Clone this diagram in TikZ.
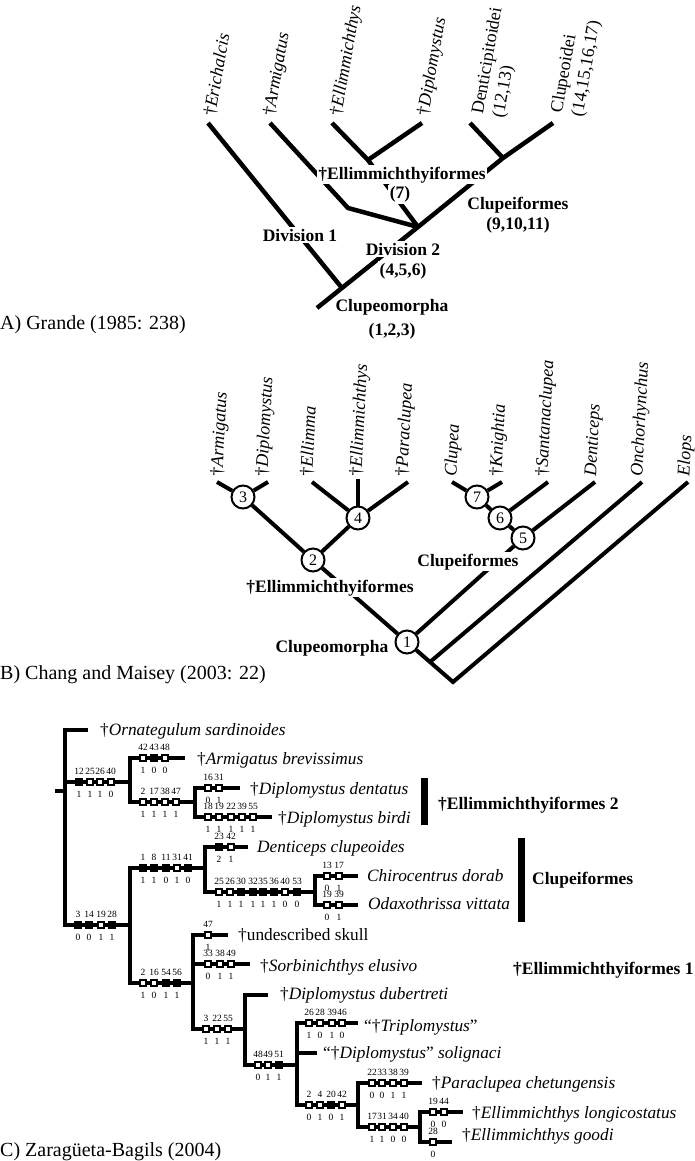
\documentclass[tikz,border=0pt]{standalone}
\usepackage{fontspec}
\setmainfont{Liberation Serif}
% one row of character boxes on a branch: name, y, list of x/fill/character/state
\newcommand{\chrow}[3]{%
  \foreach \px/\pf/\pc/\ps in {#3}{%
    \node[chbox, fill=\pf] (#1-\pc) at (\px,#2)
      [label={[ctop]above:\pc}, label={[cbot]below:\ps}] {};}}
\begin{document}
\begin{tikzpicture}[x=1pt, y=-1pt,
  brA/.style={line width=4.5pt, line join=miter},
  brB/.style={line width=4pt},
  brC/.style={line width=4.5pt, line join=miter},
  taxonA/.style={rotate=80, anchor=west, inner sep=0pt, align=left, font=\fontsize{18}{21}\selectfont},
  taxonB/.style={rotate=87, anchor=west, inner sep=0pt, font=\fontsize{18}{21}\selectfont\itshape},
  grp/.style={anchor=base, fill=white, inner sep=1.5pt, font=\fontsize{17.5}{20}\selectfont\bfseries},
  grpC/.style={anchor=base west, inner sep=0pt, font=\fontsize{17.5}{20}\selectfont\bfseries},
  title/.style={anchor=base west, inner sep=0pt, font=\fontsize{20}{24}\selectfont},
  circ/.style={circle, draw, line width=2pt, fill=white, minimum size=23pt, inner sep=0pt, font=\fontsize{16}{16}\selectfont},
  taxC/.style={anchor=base west, inner sep=0pt, font=\fontsize{17.3}{20}\selectfont},
  chbox/.style={draw, line width=1.3pt, minimum width=6.2pt, minimum height=6.2pt, inner sep=0pt},
  ctop/.style={inner sep=0pt, label distance=3.3pt, font=\fontsize{9.5}{9.5}\selectfont},
  cbot/.style={inner sep=0pt, label distance=4.8pt, font=\fontsize{9.5}{9.5}\selectfont}
]
\fill[white] (0,0) rectangle (695,1161);
\useasboundingbox (0,0) rectangle (695,1161);

% ---------------- A) Grande ----------------
\coordinate (a0) at (317,308);
\coordinate (aD1) at (342,288);
\coordinate (aD2) at (418,227);
\coordinate (aCl) at (503,158);
\coordinate (aErich) at (208,123);
\coordinate (aArmK) at (348,208);
\coordinate (aArm) at (270,123);
\coordinate (aEllJ) at (368,160);
\coordinate (aEll) at (332,123);
\coordinate (aDip) at (422,123);
\coordinate (aDen) at (470,123);
\coordinate (aClu) at (553,123);

\draw[brA] (a0) -- (aD2) -- (aCl) -- (aClu);
\draw[brA] (aD1) -- (aErich);
\draw[brA] (aD2) -- (aArmK) -- (aArm);
\draw[brA] (aD2) -- (aEllJ);
\draw[brA] (aEll) -- (aEllJ) -- (aDip);
\draw[brA] (aCl) -- (aDen);

\node[taxonA] (nErich) at (210,116) {†\textit{Erichalcis}};
\node[taxonA] (nArmA) at (270,116) {†\textit{Armigatus}};
\node[taxonA] (nEllA) at (337,116) {†\textit{Ellimmichthys}};
\node[taxonA] (nDipA) at (424,116) {†\textit{Diplomystus}};
\node[taxonA] (nDenA) at (489,116) {Denticipitoidei\\(12,13)};
\node[taxonA] (nCluA) at (568,115) {Clupeoidei\\(14,15,16,17)};

\node[grp] (laEll) at (402,179) {†Ellimmichthyiformes};
\node[grp] (laEll7) at (400,199) {(7)};
\node[grp] (laClf) at (518,209) {Clupeiformes};
\node[grp] (laClf2) at (518,229) {(9,10,11)};
\node[grp] (laD1) at (300,241) {Division 1};
\node[grp] (laD2) at (403,255) {Division 2};
\node[grp] (laD2b) at (403,275) {(4,5,6)};
\node[grp] (laClm) at (392,311) {Clupeomorpha};
\node[grp] (laClm2) at (392,335) {(1,2,3)};

\node[title] (tA) at (0,329) {A) Grande (1985: 238)};

% ---------------- B) Chang and Maisey ----------------
\node[circ] (c1) at (407,642) {1};
\node[circ] (c2) at (313,560) {2};
\node[circ] (c3) at (243,497) {3};
\node[circ] (c4) at (358,518) {4};
\node[circ] (c5) at (523,538) {5};
\node[circ] (c6) at (500,518) {6};
\node[circ] (c7) at (477,497) {7};

\coordinate (bArm) at (217,482);
\coordinate (bDip) at (268,482);
\coordinate (bElma) at (312,482);
\coordinate (bEllt) at (358,479);
\coordinate (bPara) at (408,482);
\coordinate (bClu) at (452,482);
\coordinate (bKni) at (502,482);
\coordinate (bSan) at (548,482);
\coordinate (bDen) at (595,482);
\coordinate (bOnc) at (642,482);
\coordinate (bElo) at (688,482);
\coordinate (bOncJ) at (430,662);
\coordinate (bRoot) at (453,682);

\draw[brB] (bArm) -- (c3);
\draw[brB] (bDip) -- (c3);
\draw[brB] (c3) -- (c2);
\draw[brB] (bElma) -- (c4);
\draw[brB] (bEllt) -- (c4);
\draw[brB] (bPara) -- (c4);
\draw[brB] (c4) -- (c2);
\draw[brB] (c2) -- (c1);
\draw[brB] (c1) -- (c5);
\draw[brB] (c5) -- (bDen);
\draw[brB] (c5) -- (c6);
\draw[brB] (c6) -- (bSan);
\draw[brB] (c6) -- (c7);
\draw[brB] (c7) -- (bClu);
\draw[brB] (c7) -- (bKni);
\draw[brB, line join=miter] (c1) -- (bOncJ) -- (bRoot) -- (bElo);
\draw[brB] (bOncJ) -- (bOnc);

\node[taxonB] (nArmB) at (218,476) {{\upshape†}Armigatus};
\node[taxonB] (nDipB) at (263,476) {{\upshape†}Diplomystus};
\node[taxonB] (nElmB) at (307,476) {{\upshape†}Ellimma};
\node[taxonB] (nEllB) at (357,476) {{\upshape†}Ellimmichthys};
\node[taxonB] (nParB) at (403,476) {{\upshape†}Paraclupea};
\node[taxonB] (nCluB) at (452,476) {Clupea};
\node[taxonB] (nKniB) at (497,476) {{\upshape†}Knightia};
\node[taxonB] (nSanB) at (543,476) {{\upshape†}Santanaclupea};
\node[taxonB] (nDenB) at (592,476) {Denticeps};
\node[taxonB] (nOncB) at (638,476) {Onchorhynchus};
\node[taxonB] (nEloB) at (685,476) {Elops};

\node[grp] (lbEll) at (330,592) {†Ellimmichthyiformes};
\node[grp] (lbClf) at (468,566) {Clupeiformes};
\node[grp] (lbClm) at (332,652) {Clupeomorpha};

\node[title] (tB) at (0,679) {B) Chang and Maisey (2003: 22)};

% ---------------- C) Zaragueta-Bagils ----------------
\coordinate (r0) at (55,791);
\coordinate (n0) at (65,791);
\coordinate (tOrn) at (88,730);
\coordinate (n1) at (130,782);
\coordinate (tArm) at (185,758);
\coordinate (n3) at (195,802);
\coordinate (tDent) at (240,788);
\coordinate (tBirdi) at (272,817);
\coordinate (n2) at (130,925);
\coordinate (n4) at (205,868);
\coordinate (tDenti) at (248,847);
\coordinate (n6) at (315,892);
\coordinate (tChir) at (358,876);
\coordinate (tOdax) at (358,905);
\coordinate (n5) at (193,983);
\coordinate (tUnd) at (228,935);
\coordinate (tSorb) at (250,964);
\coordinate (n7) at (245,1029);
\coordinate (tDub) at (268,995);
\coordinate (n8) at (297,1065);
\coordinate (tTri) at (358,1023);
\coordinate (tSol) at (317,1053);
\coordinate (n9) at (358,1105);
\coordinate (tPara) at (422,1083);
\coordinate (n10) at (420,1127);
\coordinate (tLong) at (463,1112);
\coordinate (tGoodi) at (452,1142);

\draw[brC] (r0) -- (n0);
\draw[brC] (n0) |- (tOrn);
\draw[brC] (n0) |- (n1);
\draw[brC] (n0) |- (n2);
\draw[brC] (n1) |- (tArm);
\draw[brC] (n1) |- (n3);
\draw[brC] (n3) |- (tDent);
\draw[brC] (n3) |- (tBirdi);
\draw[brC] (n2) |- (n4);
\draw[brC] (n2) |- (n5);
\draw[brC] (n4) |- (tDenti);
\draw[brC] (n4) |- (n6);
\draw[brC] (n6) |- (tChir);
\draw[brC] (n6) |- (tOdax);
\draw[brC] (n5) |- (tUnd);
\draw[brC] (n5) |- (tSorb);
\draw[brC] (n5) |- (n7);
\draw[brC] (n7) |- (tDub);
\draw[brC] (n7) |- (n8);
\draw[brC] (n8) |- (tTri);
\draw[brC] (n8) |- (tSol);
\draw[brC] (n8) |- (n9);
\draw[brC] (n9) |- (tPara);
\draw[brC] (n9) |- (n10);
\draw[brC] (n10) |- (tLong);
\draw[brC] (n10) |- (tGoodi);

% character changes (black = filled, white = open)
\chrow{k1}{782}{79/black/12/1, 90/white/25/1, 100/white/26/1, 111/white/40/0}
\chrow{k2}{758}{143/white/42/1, 154/black/43/0, 165/white/48/0}
\chrow{k3}{802}{143/white/2/1, 154/white/17/1, 165/white/38/1, 176/white/47/1}
\chrow{k4}{788}{208/white/16/0, 219/white/31/1}
\chrow{k5}{817}{208/white/18/1, 219/white/19/1, 231/white/22/1, 242/white/39/1, 253/white/55/1}
\chrow{k6}{925}{78/black/3/0, 89/black/14/0, 101/white/19/1, 112/black/28/1}
\chrow{k7}{868}{143/black/1/1, 154/black/8/1, 166/black/11/0, 177/white/31/1, 188/black/41/0}
\chrow{k8}{847}{219/black/23/2, 231/white/42/1}
\chrow{k9}{892}{219/white/25/1, 230/white/26/1, 241/black/30/1, 253/black/32/1, 263/black/35/1, 274/black/36/1, 285/white/40/0, 297/black/53/0}
\chrow{k10}{876}{327/white/13/0, 339/white/17/1}
\chrow{k11}{905}{327/white/19/0, 339/white/39/1}
\chrow{k12}{983}{143/white/2/1, 154/white/16/0, 166/black/54/1, 177/black/56/1}
\chrow{k13}{935}{208/white/47/1}
\chrow{k14}{964}{208/white/33/0, 220/white/38/1, 231/white/49/1}
\chrow{k15}{1029}{206/white/3/1, 217/white/22/1, 228/white/55/1}
\chrow{k16}{1065}{258/white/48/0, 268/white/49/1, 279/black/51/1}
\chrow{k17}{1023}{309/white/26/1, 320/white/28/0, 332/white/39/1, 342/white/46/0}
\chrow{k18}{1105}{309/white/2/0, 320/white/4/1, 331/black/20/0, 342/white/42/1}
\chrow{k19}{1083}{372/white/22/0, 382/white/33/0, 393/white/38/1, 404/white/39/1}
\chrow{k20}{1127}{372/white/17/1, 382/white/31/1, 393/white/34/0, 404/white/40/0}
\chrow{k21}{1112}{433/white/19/0, 444/white/44/0}
\chrow{k22}{1142}{433/white/28/0}

\node[taxC] (xOrn) at (100,735) {†\textit{Ornategulum sardinoides}};
\node[taxC] (xArm) at (197,764) {†\textit{Armigatus brevissimus}};
\node[taxC] (xDent) at (250,794) {†\textit{Diplomystus dentatus}};
\node[taxC] (xBirdi) at (278,823) {†\textit{Diplomystus birdi}};
\node[taxC] (xDenti) at (257,852) {\textit{Denticeps clupeoides}};
\node[taxC] (xChir) at (367,881) {\textit{Chirocentrus dorab}};
\node[taxC] (xOdax) at (368,909) {\textit{Odaxothrissa vittata}};
\node[taxC] (xUnd) at (238,940) {†undescribed skull};
\node[taxC] (xSorb) at (260,971) {†\textit{Sorbinichthys elusivo}};
\node[taxC] (xDub) at (280,999) {†\textit{Diplomystus dubertreti}};
\node[taxC] (xTri) at (364,1031) {“†\textit{Triplomystus}”};
\node[taxC] (xSol) at (323,1058) {“†\textit{Diplomystus}” \textit{solignaci}};
\node[taxC] (xPara) at (432,1088) {†\textit{Paraclupea chetungensis}};
\node[taxC] (xLong) at (472,1118) {†\textit{Ellimmichthys longicostatus}};
\node[taxC] (xGoodi) at (462,1140) {†\textit{Ellimmichthys goodi}};

\fill (421,778) rectangle (428,825);
\fill (518,838) rectangle (525,922);
\node[grpC] (lcEll2) at (438,809) {†Ellimmichthyiformes 2};
\node[grpC] (lcClf) at (532,884) {Clupeiformes};
\node[grpC] (lcEll1) at (513,974) {†Ellimmichthyiformes 1};

\node[title] (tC) at (0,1156) {C) Zaragüeta-Bagils (2004)};
\end{tikzpicture}
\end{document}
